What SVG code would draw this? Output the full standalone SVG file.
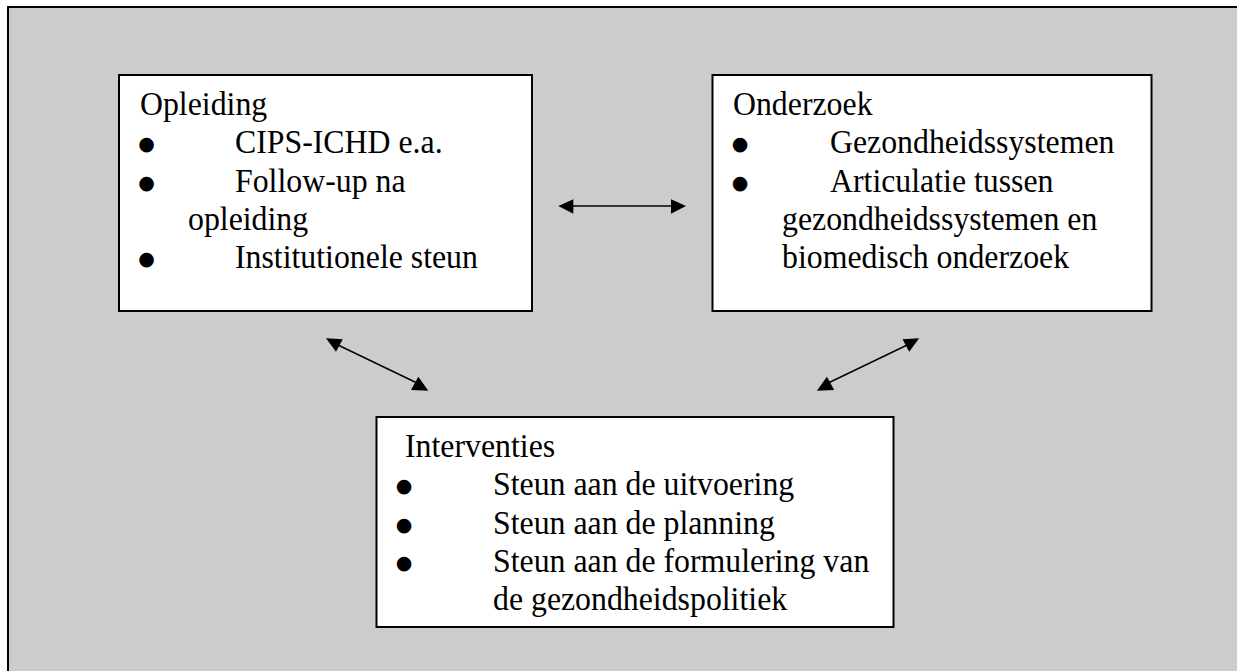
<svg xmlns="http://www.w3.org/2000/svg" width="1237" height="671" viewBox="0 0 1237 671">
<style>
.box{fill:#ffffff;stroke:#000000;stroke-width:2}
.t{font-family:"Liberation Serif","Times New Roman",serif;font-size:33.5px;fill:#000000}
.b{font-family:"DejaVu Sans","Liberation Sans",sans-serif;font-size:19px;fill:#000000;text-anchor:middle}
.ln{stroke:#000000;stroke-width:1.4;fill:none}
.hd{fill:#000000;stroke:none}
</style>
<rect x="0" y="0" width="1237" height="671" fill="#ffffff"/>
<rect x="8" y="7" width="1240" height="680" fill="#cccccc" stroke="#000000" stroke-width="2"/>
<g id="opleiding">
<rect class="box" x="119" y="75" width="413" height="236"/>
<g transform="scale(0.95,1)">
<text class="t" x="147.37" y="115">Opleiding</text>
<text class="t" x="247.37" y="153.3">CIPS-ICHD e.a.</text>
<text class="t" x="247.37" y="191.6">Follow-up na</text>
<text class="t" x="197.89" y="229.9">opleiding</text>
<text class="t" x="247.37" y="268.2">Institutionele steun</text>
</g>
<text class="b" x="146.5" y="150.3">●</text>
<text class="b" x="146.5" y="188.6">●</text>
<text class="b" x="146.5" y="265.2">●</text>
</g>
<g id="onderzoek">
<rect class="box" x="712.5" y="75" width="439" height="236"/>
<g transform="scale(0.95,1)">
<text class="t" x="771.58" y="115">Onderzoek</text>
<text class="t" x="873.68" y="153.3">Gezondheidssystemen</text>
<text class="t" x="873.68" y="191.6">Articulatie tussen</text>
<text class="t" x="823.16" y="229.9">gezondheidssystemen en</text>
<text class="t" x="823.16" y="268.2">biomedisch onderzoek</text>
</g>
<text class="b" x="740" y="150.3">●</text>
<text class="b" x="740" y="188.6">●</text>
</g>
<g id="interventies">
<rect class="box" x="376.5" y="417" width="517" height="210"/>
<g transform="scale(0.95,1)">
<text class="t" x="426.32" y="457">Interventies</text>
<text class="t" x="518.95" y="495.3">Steun aan de uitvoering</text>
<text class="t" x="518.95" y="533.6">Steun aan de planning</text>
<text class="t" x="518.95" y="571.9">Steun aan de formulering van</text>
<text class="t" x="518.95" y="610.2">de gezondheidspolitiek</text>
</g>
<text class="b" x="404" y="492.3">●</text>
<text class="b" x="404" y="530.6">●</text>
<text class="b" x="404" y="568.9">●</text>
</g>
<g id="connectors">
<line class="ln" x1="572" y1="206" x2="672" y2="206"/>
<polygon class="hd" points="558.3,206 573.3,199.3 573.3,213.7"/>
<polygon class="hd" points="686,206 671,199.3 671,213.7"/>
<line class="ln" x1="338" y1="345" x2="417" y2="383"/>
<polygon class="hd" points="326,338.3 342.7,339.3 336,351.7"/>
<polygon class="hd" points="418.3,376.7 411,390 428.3,390.7"/>
<line class="ln" x1="907.2" y1="345" x2="828.2" y2="383"/>
<polygon class="hd" points="919.2,338.3 902.5,339.3 909.2,351.7"/>
<polygon class="hd" points="826.9,376.7 834.2,390 816.9,390.7"/>
</g>
</svg>
